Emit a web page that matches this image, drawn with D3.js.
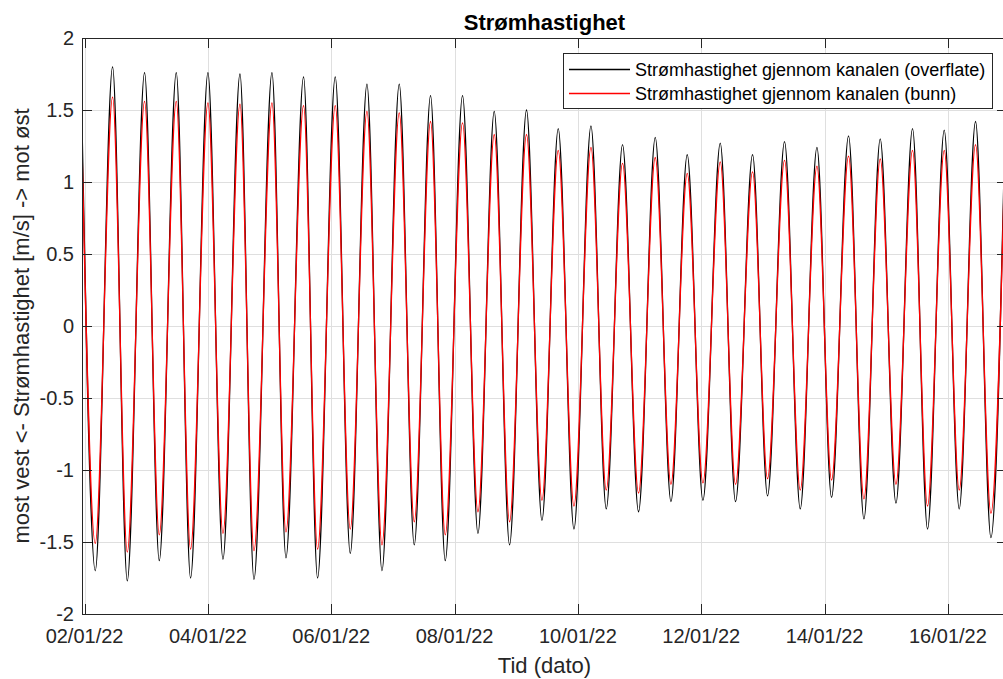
<!DOCTYPE html>
<html lang="no">
<head>
<meta charset="UTF-8">
<title>Strømhastighet</title>
<script src="https://cdn.jsdelivr.net/npm/d3@7"></script>
<style>
  html, body { margin: 0; padding: 0; background: #fff; overflow: hidden; }
  svg { display: block; font-family: "Liberation Sans", Arial, Helvetica, sans-serif; }
</style>
</head>
<body>
<div id="chart"></div>
<script>
// extrema, hours after 02/01/22 00:00
const peakHours = [-1.4, 10.9, 23.35, 35.69, 48.02, 60.48, 72.93, 85.23, 97.56, 109.9, 122.47, 134.65, 147.1, 159.44, 172.0, 184.35, 197.08, 209.37, 222.1, 234.55, 247.4, 259.97, 272.42, 285.03, 297.33, 309.66, 322.23, 334.57, 346.75, 358.3];
const peakSurface = [1.78, 1.80, 1.76, 1.76, 1.76, 1.75, 1.76, 1.73, 1.73, 1.68, 1.68, 1.60, 1.60, 1.49, 1.50, 1.37, 1.39, 1.26, 1.31, 1.19, 1.27, 1.19, 1.28, 1.24, 1.32, 1.30, 1.37, 1.36, 1.42, 1.42];
const peakBottom = [1.58, 1.59, 1.56, 1.56, 1.55, 1.54, 1.55, 1.53, 1.53, 1.49, 1.48, 1.42, 1.41, 1.33, 1.33, 1.22, 1.24, 1.13, 1.17, 1.06, 1.14, 1.07, 1.15, 1.11, 1.18, 1.16, 1.22, 1.22, 1.26, 1.27];

const troughHours = [4.16, 16.62, 29.07, 41.25, 53.86, 65.93, 78.38, 90.68, 103.4, 115.74, 128.31, 140.37, 153.1, 165.4, 178.0, 190.46, 203.03, 215.6, 228.21, 240.66, 253.35, 265.8, 278.53, 290.71, 303.32, 315.78, 328.07, 340.4, 352.74];
const troughSurface = [-1.70, -1.77, -1.63, -1.75, -1.62, -1.76, -1.61, -1.75, -1.58, -1.70, -1.52, -1.63, -1.44, -1.52, -1.35, -1.41, -1.27, -1.29, -1.22, -1.21, -1.22, -1.18, -1.27, -1.19, -1.34, -1.23, -1.41, -1.27, -1.47];
const troughBottom = [-1.51, -1.57, -1.45, -1.55, -1.44, -1.56, -1.43, -1.55, -1.41, -1.52, -1.36, -1.45, -1.29, -1.36, -1.21, -1.25, -1.14, -1.16, -1.10, -1.09, -1.10, -1.06, -1.14, -1.07, -1.20, -1.10, -1.25, -1.14, -1.30];

const xTickDates = ["2022-01-02", "2022-01-04", "2022-01-06", "2022-01-08", "2022-01-10", "2022-01-12", "2022-01-14", "2022-01-16"];
const yTicks = [-2, -1.5, -1, -0.5, 0, 0.5, 1, 1.5, 2];
const seriesNames = ["Strømhastighet gjennom kanalen (overflate)", "Strømhastighet gjennom kanalen (bunn)"];
const seriesColors = ["#000000", "#ff0000"];

const width = 1003, height = 679;
const margin = {left: 82, top: 38, right: 1007, bottom: 614};
const t0 = Date.UTC(2022, 0, 2);
const toDate = h => new Date(t0 + h * 3600e3);

const x = d3.scaleUtc()
    .domain([new Date(Date.UTC(2022, 0, 1, 23)), new Date(Date.UTC(2022, 0, 16, 23))])
    .range([margin.left, margin.right]);
const y = d3.scaleLinear().domain([-2, 2]).range([margin.bottom, margin.top]);

function series(vPeak, vTrough) {
  const pts = peakHours.map((h, i) => ({t: toDate(h), v: vPeak[i]}))
    .concat(troughHours.map((h, i) => ({t: toDate(h), v: vTrough[i]})));
  return pts.sort((a, b) => a.t - b.t);
}
const data = [series(peakSurface, troughSurface), series(peakBottom, troughBottom)];

const svg = d3.select("#chart").append("svg")
    .attr("width", width)
    .attr("height", height);

svg.append("rect").attr("width", width).attr("height", height).attr("fill", "#fff");

svg.append("clipPath").attr("id", "plotclip")
  .append("rect")
    .attr("x", margin.left).attr("y", margin.top)
    .attr("width", margin.right - margin.left)
    .attr("height", margin.bottom - margin.top);

const tickLen = 10;
const xTicks = xTickDates.map(s => new Date(s + "T00:00:00Z"));
const fmtDate = d3.utcFormat("%d/%m/%y");

// grid
const grid = svg.append("g").attr("stroke", "#dfdfdf").attr("stroke-width", 1);
grid.selectAll(".gx").data(xTicks).join("line")
    .attr("x1", d => Math.round(x(d)) + 0.5).attr("x2", d => Math.round(x(d)) + 0.5)
    .attr("y1", margin.top).attr("y2", margin.bottom);
grid.selectAll(".gy").data(yTicks).join("line")
    .attr("y1", d => Math.round(y(d)) + 0.5).attr("y2", d => Math.round(y(d)) + 0.5)
    .attr("x1", margin.left).attr("x2", margin.right);

// curves
const line = d3.line()
    .x(d => x(d.t))
    .y(d => y(d.v))
    .curve(d3.curveMonotoneX);

svg.append("g").attr("clip-path", "url(#plotclip)")
  .selectAll("path")
  .data(data)
  .join("path")
    .attr("fill", "none")
    .attr("stroke", (d, i) => seriesColors[i])
    .attr("stroke-width", 1.3)
    .attr("d", line);

// axes box and inward ticks
const axisColor = "#262626";
const box = svg.append("g").attr("stroke", axisColor).attr("stroke-width", 1);
box.append("rect")
    .attr("x", margin.left + 0.5).attr("y", margin.top + 0.5)
    .attr("width", margin.right - margin.left).attr("height", margin.bottom - margin.top)
    .attr("fill", "none");
box.selectAll(".tb").data(xTicks).join("line")
    .attr("x1", d => Math.round(x(d)) + 0.5).attr("x2", d => Math.round(x(d)) + 0.5)
    .attr("y1", margin.bottom).attr("y2", margin.bottom - tickLen);
box.selectAll(".tt").data(xTicks).join("line")
    .attr("x1", d => Math.round(x(d)) + 0.5).attr("x2", d => Math.round(x(d)) + 0.5)
    .attr("y1", margin.top).attr("y2", margin.top + tickLen);
box.selectAll(".tl").data(yTicks).join("line")
    .attr("y1", d => Math.round(y(d)) + 0.5).attr("y2", d => Math.round(y(d)) + 0.5)
    .attr("x1", margin.left).attr("x2", margin.left + tickLen);
box.selectAll(".tr").data(yTicks).join("line")
    .attr("y1", d => Math.round(y(d)) + 0.5).attr("y2", d => Math.round(y(d)) + 0.5)
    .attr("x1", margin.right).attr("x2", margin.right - tickLen);

// tick labels
svg.append("g").attr("fill", axisColor).attr("font-size", 20)
  .selectAll("text").data(xTicks).join("text")
    .attr("x", d => x(d)).attr("y", 643)
    .attr("text-anchor", "middle")
    .text(d => fmtDate(d));

svg.append("g").attr("fill", axisColor).attr("font-size", 20)
  .selectAll("text").data(yTicks).join("text")
    .attr("x", 74).attr("y", d => y(d) + 7)
    .attr("text-anchor", "end")
    .text(d => String(d));

// labels and title
svg.append("text")
    .attr("x", (margin.left + margin.right) / 2).attr("y", 673)
    .attr("text-anchor", "middle").attr("font-size", 22).attr("fill", axisColor)
    .text("Tid (dato)");

svg.append("text")
    .attr("transform", `translate(29,${(margin.top + margin.bottom) / 2}) rotate(-90)`)
    .attr("text-anchor", "middle").attr("font-size", 22).attr("fill", axisColor)
    .text("most vest <- Strømhastighet [m/s] -> mot øst");

svg.append("text")
    .attr("x", (margin.left + margin.right) / 2).attr("y", 30)
    .attr("text-anchor", "middle").attr("font-size", 22).attr("font-weight", "bold").attr("fill", "#000")
    .text("Strømhastighet");

// legend
const legendItems = seriesNames.map((name, i) => ({name, color: seriesColors[i], row: i}));
const legend = svg.append("g");
legend.append("rect")
    .attr("x", 563.5).attr("y", 53.5).attr("width", 429).attr("height", 55)
    .attr("fill", "#fff").attr("stroke", axisColor).attr("stroke-width", 1);
const rows = legend.selectAll("g.row").data(legendItems).join("g")
    .attr("transform", d => `translate(0,${69.5 + d.row * 24})`);
rows.append("line")
    .attr("x1", 569).attr("x2", 630).attr("y1", 0).attr("y2", 0)
    .attr("stroke", d => d.color).attr("stroke-width", 1.3);
rows.append("text")
    .attr("x", 635).attr("y", 6.5)
    .attr("font-size", 18).attr("fill", "#000")
    .text(d => d.name);
</script>
</body>
</html>
